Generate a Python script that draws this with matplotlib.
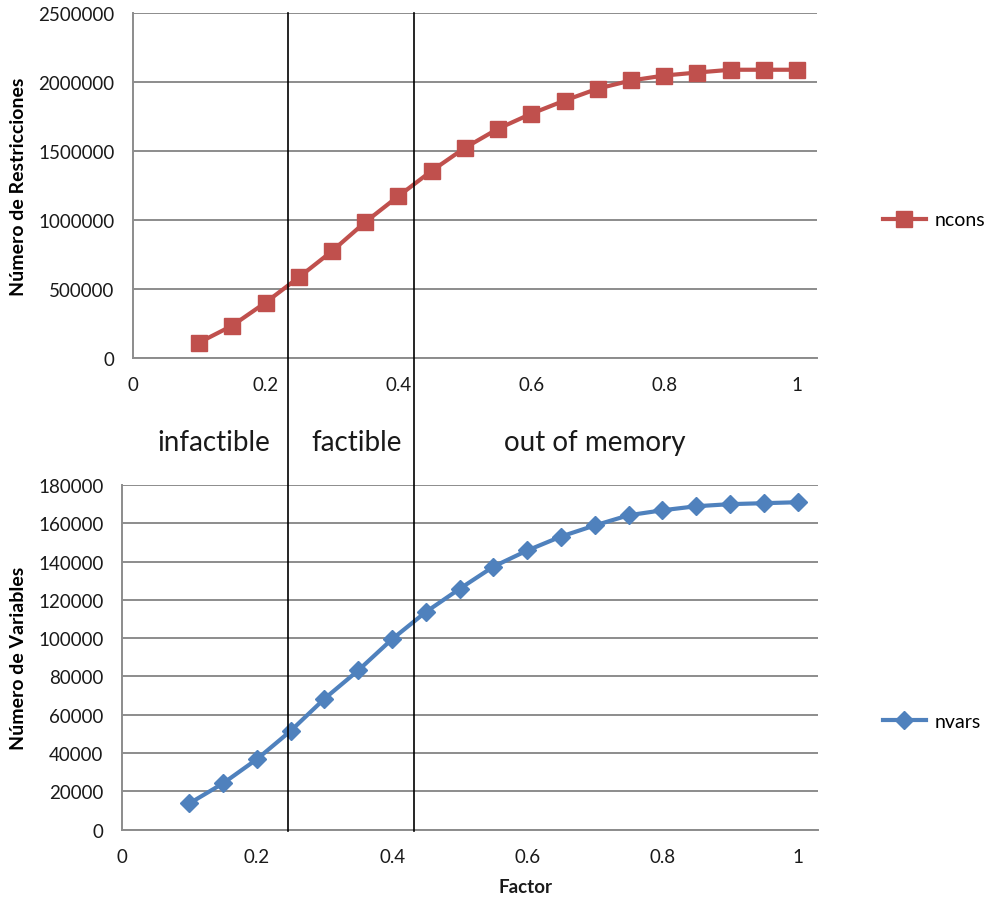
import matplotlib
matplotlib.use("Agg")
import matplotlib.pyplot as plt
from matplotlib.lines import Line2D

plt.rcParams['font.family'] = ['Lato', 'DejaVu Sans']

# Factor values shared by both series
factor = [0.10, 0.15, 0.20, 0.25, 0.30, 0.35, 0.40, 0.45, 0.50, 0.55,
          0.60, 0.65, 0.70, 0.75, 0.80, 0.85, 0.90, 0.95, 1.00]

# Number of constraints
ncons = [110000, 233000, 400000, 583000, 773000, 984000, 1173000, 1356000,
         1523000, 1662000, 1771000, 1866000, 1953000, 2012000, 2048000,
         2070000, 2090000, 2090000, 2090000]

# Number of variables
nvars = [13700, 24200, 36800, 51600, 68400, 83200, 99500, 113700, 125800,
         137400, 145800, 153100, 158900, 164200, 166800, 168900, 170000,
         170500, 171000]

xticks = [0, 0.2, 0.4, 0.6, 0.8, 1]
yticks_top = [0, 500000, 1000000, 1500000, 2000000, 2500000]
yticks_bottom = list(range(0, 180001, 20000))

regions = ['infactible', 'factible', 'out of memory']

RED = '#C0504D'
BLUE = '#4F81BD'
GRID = '#8C8C8C'
TEXT = '#1a1a1a'

fig = plt.figure(figsize=(9.91, 9.03), dpi=100)
ax1 = fig.add_axes([0.1339, 0.6028, 0.6905, 0.3814])
ax2 = fig.add_axes([0.1228, 0.0801, 0.7026, 0.3817])


def style_axis(ax, yticks):
    ax.set_xlim(0, 1.03)
    ax.set_ylim(yticks[0], yticks[-1])
    ax.set_xticks(xticks)
    ax.set_xticklabels([f'{t:g}' for t in xticks])
    ax.set_yticks(yticks)
    ax.set_yticklabels([str(t) for t in yticks])
    ax.grid(axis='y', color=GRID, linewidth=1.4)
    ax.set_axisbelow(True)
    for s in ('top', 'right'):
        ax.spines[s].set_visible(False)
    for s in ('left', 'bottom'):
        ax.spines[s].set_color(GRID)
        ax.spines[s].set_linewidth(1.4)
    ax.tick_params(length=0, pad=13, labelsize=13.5, colors=TEXT)


style_axis(ax1, yticks_top)
ax1.plot(factor, ncons, color=RED, linewidth=3, marker='s', markersize=11,
         label='ncons', clip_on=False, zorder=3)
ax1.set_ylabel('Número de Restricciones', fontsize=14, fontweight='bold')
ax1.yaxis.set_label_coords(-0.1545, 0.5)
ax1.legend(loc='center left', bbox_to_anchor=(1.0965, 0.40), frameon=False,
           fontsize=14, handlelength=2.2, handletextpad=0.45, borderpad=0,
           borderaxespad=0)

style_axis(ax2, yticks_bottom)
ax2.plot(factor, nvars, color=BLUE, linewidth=3, marker='D', markersize=9,
         label='nvars', clip_on=False, zorder=3)
ax2.set_ylabel('Número de Variables', fontsize=14, fontweight='bold')
ax2.yaxis.set_label_coords(-0.136, 0.5)
ax2.legend(loc='center left', bbox_to_anchor=(1.093, 0.315), frameon=False,
           fontsize=14, handlelength=2.2, handletextpad=0.45, borderpad=0,
           borderaxespad=0)

fig.text(526 / 991, 1 - 888 / 903, 'Factor', ha='center', va='center',
         fontsize=13.5, fontweight='bold', color=TEXT)

# boundaries between regions, spanning both panels
for xf in (287.7 / 991, 414.3 / 991):
    fig.add_artist(Line2D([xf, xf], [1 - 832 / 903, 1 - 14 / 903],
                          color='black', linewidth=1.2))

for label, xc in zip(regions, (214, 357, 595)):
    fig.text(xc / 991, 1 - 443 / 903, label, ha='center', va='center',
             fontsize=20, color=TEXT)

fig.savefig('out.png', dpi=100, facecolor='white')
